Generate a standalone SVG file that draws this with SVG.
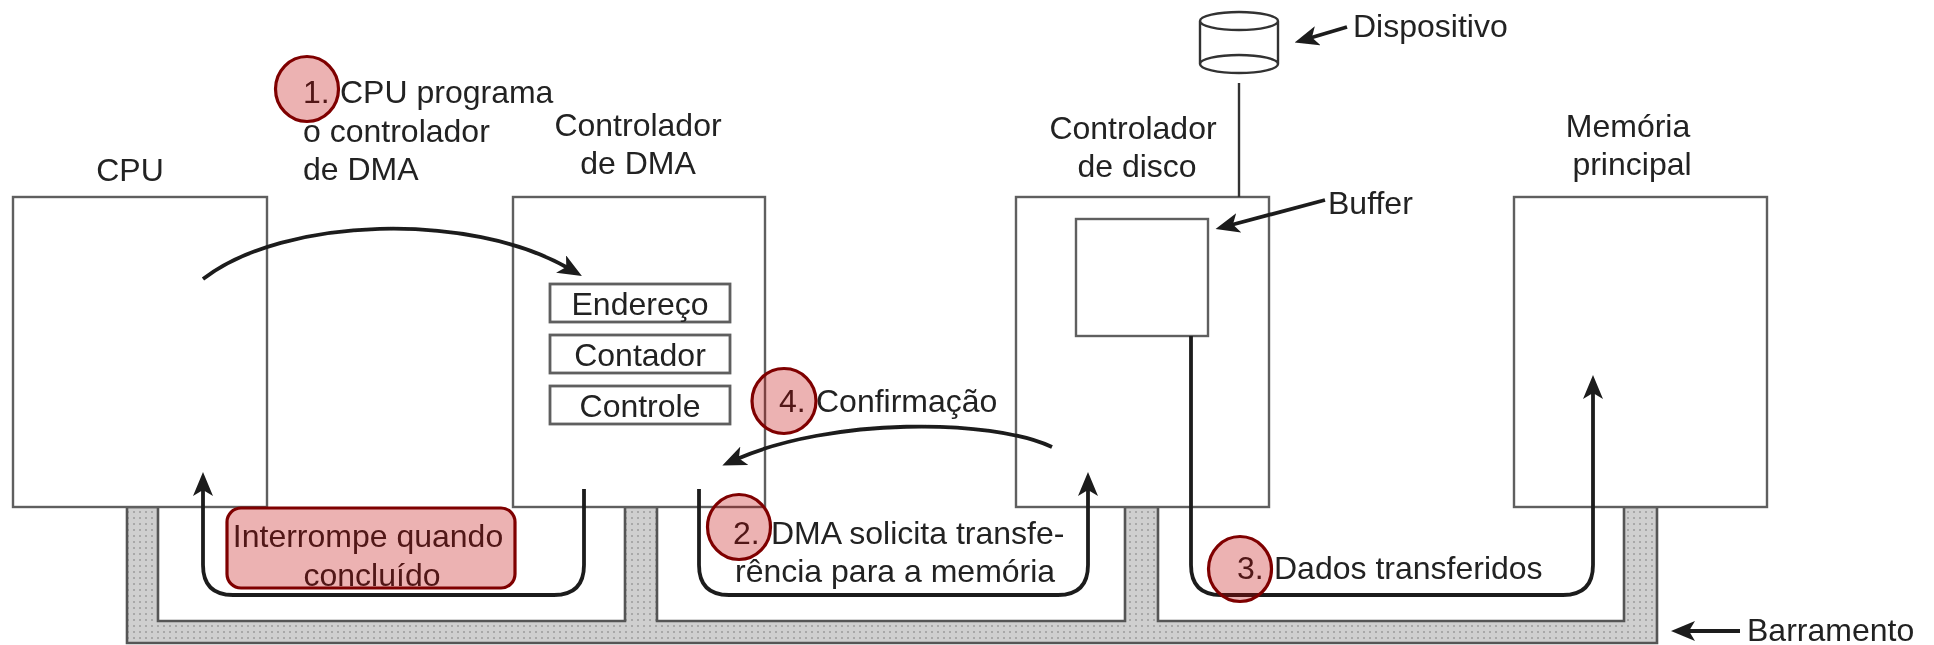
<svg xmlns="http://www.w3.org/2000/svg" width="1934" height="645" viewBox="0 0 1934 645">
<style>
text{font-family:"Liberation Sans",Arial,sans-serif;font-size:32px;fill:#222}
.m{text-anchor:middle}
.box{fill:#fff;stroke:#5e5e5e;stroke-width:2.4}
.reg{fill:#fff;stroke:#5e5e5e;stroke-width:2.8}
.line{fill:none;stroke:#1c1c1c;stroke-width:3.8}
.thin{fill:none;stroke:#333;stroke-width:2.4}
.badge{fill:#c00000;fill-opacity:.3;stroke:#7f0000;stroke-width:3.2}
</style>
<defs>
<marker id="head" markerUnits="userSpaceOnUse" viewBox="0 0 24 20" refX="8" refY="10" markerWidth="24" markerHeight="20" orient="auto">
<polygon points="0,0 24,10 0,20 6,10" fill="#1c1c1c"/>
</marker>
<pattern id="dots" patternUnits="userSpaceOnUse" width="6" height="6">
<rect width="6" height="6" fill="#cfcfcf"/><rect x="1" y="1" width="2" height="2" fill="#a8a8a8"/>
</pattern>
<filter id="soft" filterUnits="userSpaceOnUse" x="0" y="0" width="1934" height="645"><feGaussianBlur stdDeviation="0.65"/></filter>
</defs>
<rect width="1934" height="645" fill="#fff"/>
<g filter="url(#soft)">
<g id="barramento">
<path d="M127,507V643H1657V507H1624V621H1158V507H1125V621H657V507H625V621H158V507Z" fill="url(#dots)" stroke="#555" stroke-width="2.6"/>
<text x="1747" y="641">Barramento</text>
</g>
<g id="cpu">
<rect class="box" x="13" y="197" width="254" height="310"/>
<text class="m" x="130" y="181">CPU</text>
</g>
<g id="controlador-dma">
<rect class="box" x="513" y="197" width="252" height="310"/>
<text class="m" x="638" y="136">Controlador</text>
<text class="m" x="638" y="174">de DMA</text>
<rect class="reg" x="550" y="284" width="180" height="38"/>
<text class="m" x="640" y="315">Endereço</text>
<rect class="reg" x="550" y="335" width="180" height="38"/>
<text class="m" x="640" y="366">Contador</text>
<rect class="reg" x="550" y="386" width="180" height="38"/>
<text class="m" x="640" y="417">Controle</text>
</g>
<g id="controlador-disco">
<rect class="box" x="1016" y="197" width="253" height="310"/>
<text class="m" x="1133" y="139">Controlador</text>
<text class="m" x="1137" y="177">de disco</text>
</g>
<g id="buffer">
<rect class="box" x="1076" y="219" width="132" height="117"/>
<text x="1328" y="214">Buffer</text>
</g>
<g id="memoria">
<rect class="box" x="1514" y="197" width="253" height="310"/>
<text class="m" x="1628" y="137">Memória</text>
<text class="m" x="1632" y="175">principal</text>
</g>
<g id="dispositivo">
<path class="thin" d="M1200,21V64A39,9 0 0 0 1278,64V21A39,9 0 0 0 1200,21A39,9 0 0 0 1278,21M1200,64A39,9 0 0 1 1278,64" stroke-width="2.8"/>
<text x="1353" y="37">Dispositivo</text>
</g>
<g id="connectors">
<line class="thin" x1="1239" y1="83" x2="1239" y2="197"/>
<path class="line" d="M203,279C285,216 470,212 568,268" marker-end="url(#head)"/>
<path class="line" d="M584,489V565Q584,595 554,595H233Q203,595 203,565V488" marker-end="url(#head)"/>
<path class="line" d="M1052,447C990,418 830,418 737,459" marker-end="url(#head)"/>
<path class="line" d="M699,489V565Q699,595 729,595H1058Q1088,595 1088,565V488" marker-end="url(#head)"/>
<path class="line" d="M1191,336V565Q1191,595 1221,595H1563Q1593,595 1593,565V391" marker-end="url(#head)"/>
<line class="line" x1="1347" y1="27" x2="1310" y2="38" marker-end="url(#head)"/>
<line class="line" x1="1325" y1="200" x2="1231" y2="225" marker-end="url(#head)"/>
<line class="line" x1="1740" y1="631" x2="1687" y2="631" marker-end="url(#head)"/>
</g>
</g>
<g id="passo-1">
<g filter="url(#soft)">
<text x="303" y="103">1.</text>
<text x="340" y="103">CPU programa</text>
<text x="303" y="142">o controlador</text>
<text x="303" y="180">de DMA</text>
</g>
<ellipse class="badge" cx="307" cy="89" rx="31.5" ry="32.5"/>
</g>
<g id="passo-2">
<g filter="url(#soft)">
<text x="733" y="544">2.</text>
<text x="771" y="544">DMA solicita transfe-</text>
<text x="735" y="582">rência para a memória</text>
</g>
<ellipse class="badge" cx="739" cy="527" rx="31.5" ry="32.5"/>
</g>
<g id="passo-3">
<g filter="url(#soft)">
<text x="1237" y="579">3.</text>
<text x="1274" y="579">Dados transferidos</text>
</g>
<ellipse class="badge" cx="1240" cy="569" rx="31.5" ry="32.5"/>
</g>
<g id="passo-4">
<g filter="url(#soft)">
<text x="779" y="412">4.</text>
<text x="816" y="412">Confirmação</text>
</g>
<ellipse class="badge" cx="784" cy="401" rx="32" ry="32.5"/>
</g>
<g id="interrompe">
<g filter="url(#soft)">
<text class="m" x="368" y="547">Interrompe quando</text>
<text class="m" x="372" y="586">concluído</text>
</g>
<rect class="badge" x="227" y="508" width="288" height="80" rx="14"/>
</g>
</svg>
